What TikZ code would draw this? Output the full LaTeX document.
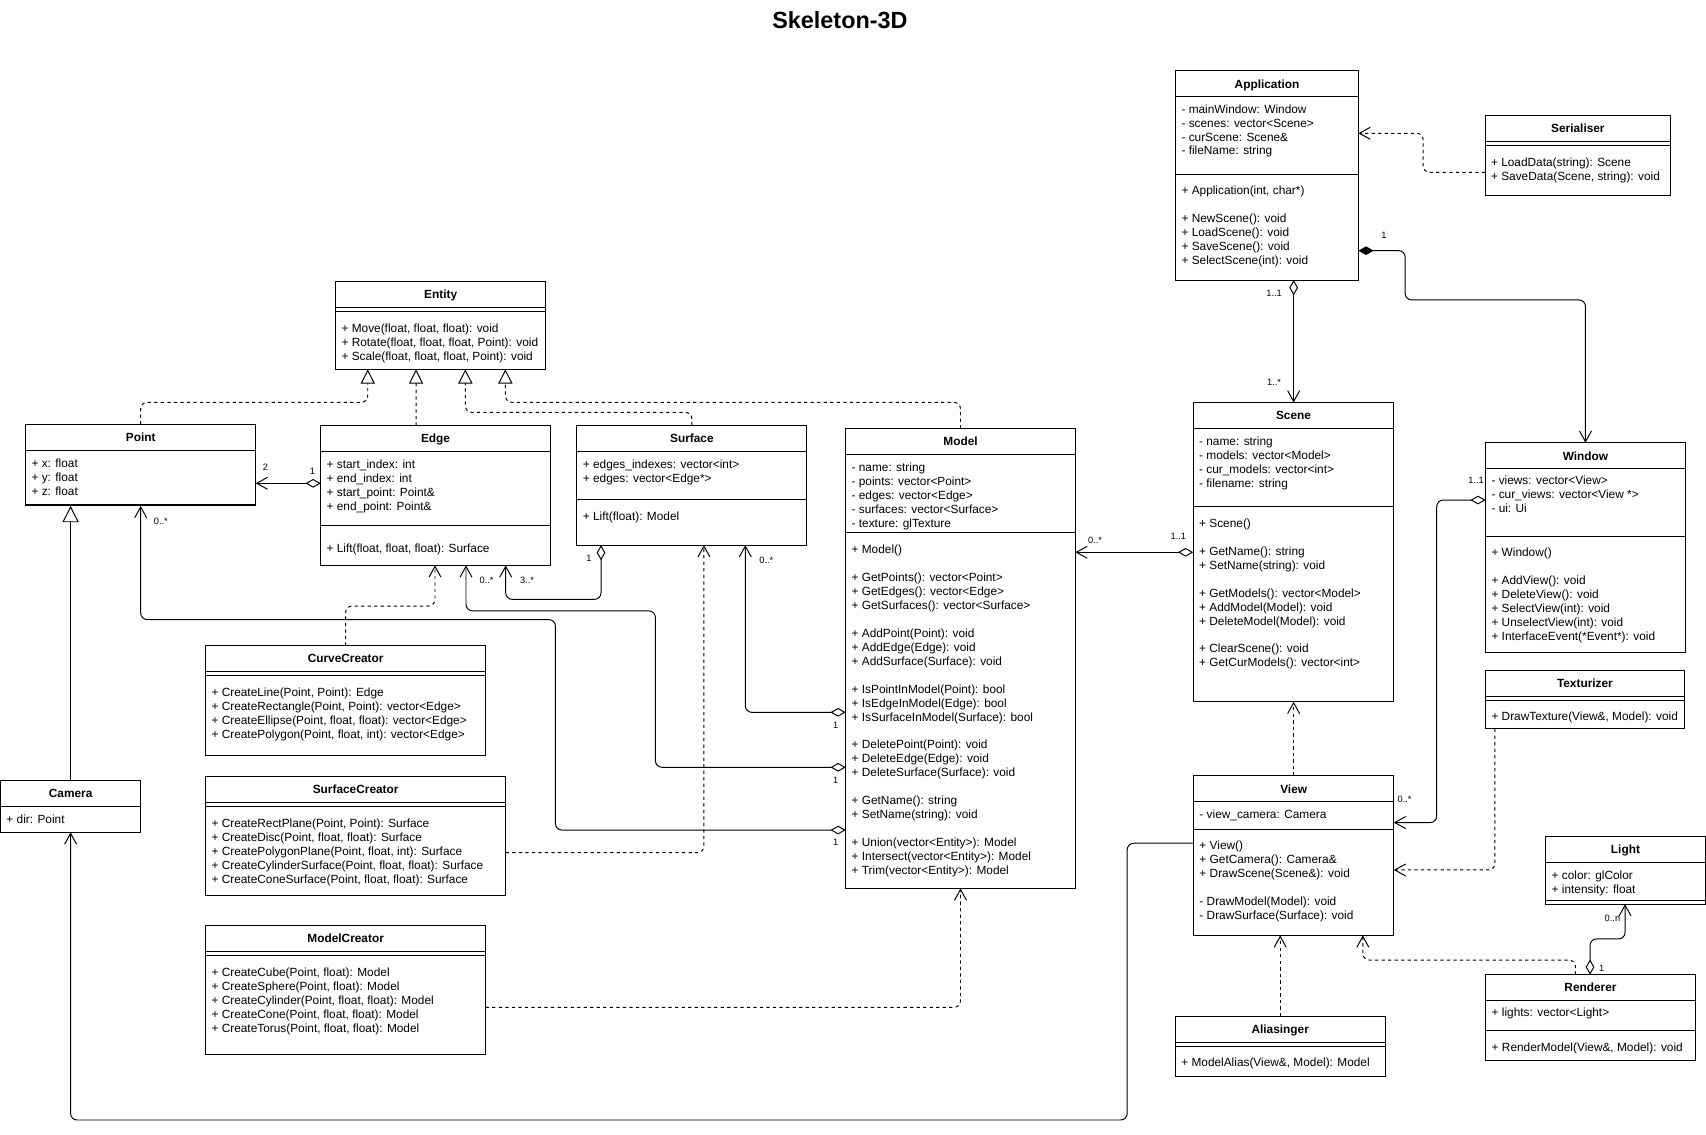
\documentclass[tikz,border=0pt]{standalone}
\usepackage{fontspec}
\setmainfont{Liberation Sans}
\usetikzlibrary{arrows.meta}
\newcommand{\hsep}[2]{\draw ([yshift=-#2pt]#1.north west) -- ([yshift=-#2pt]#1.north east);}
\newcommand{\umlbox}[6]{%
  \node[box,minimum width=#4pt,minimum height=#5pt] (#1) at (#2,#3) {};
  \node[ttl] (#1-title) at ([yshift=-12pt]#1.north) {#6};
  \hsep{#1}{24}}
\newcommand{\members}[4]{%
  \foreach \t [count=\i from 0] in {#4}{%
    \node[mem] (#1-\i) at (#2+5,#3+\i*12.85) {\t};}}
\begin{document}
\begin{tikzpicture}[x=1pt,y=-1pt,line width=0.9pt,
  box/.style={draw,inner sep=0,outer sep=0,anchor=north west},
  ttl/.style={font=\bfseries\fontsize{10.9}{13}\selectfont,inner sep=0,text height=7.8pt,text depth=0pt,anchor=center},
  mem/.style={font=\fontsize{10.9}{12.85}\selectfont,inner sep=0,text height=7pt,text depth=0pt,anchor=west},
  lbl/.style={font=\fontsize{8.5}{10}\selectfont,inner sep=0},
  dpat/.style={dash pattern=on 3pt off 3pt},
  conn/.style={rounded corners=6pt},
  oarr/.tip={Straight Barb[length=10pt,width=11pt]},
  real/.style={conn,dpat,-{Triangle[open,length=13pt,width=13pt]}},
  inh/.style={conn,-{Triangle[open,length=15pt,width=15pt]}},
  dep/.style={conn,dpat,-oarr},
  agg/.style={conn,{Diamond[open,length=14pt,width=8pt]}-oarr},
  comp/.style={conn,{Diamond[length=14pt,width=8pt]}-oarr},
  assoc/.style={conn,-oarr}]
\path[use as bounding box,fill=white] (0,0) rectangle (1568,1043);

\node[font=\bfseries\fontsize{21.5}{24}\selectfont,anchor=base] (title) at (772,26) {Skeleton-3D};

% ---------- classes ----------
\umlbox{entity}{308.5}{258.5}{193}{81}{Entity}
\hsep{entity}{27.6}
\members{ent}{308.5}{302}{{+ Move(float, float, float): void},{+ Rotate(float, float, float, Point): void},{+ Scale(float, float, float, Point): void}}

\umlbox{point}{23.6}{390}{211.4}{75}{Point}
\hsep{point}{73.5}
\members{pt}{23.6}{426}{{+ x: float},{+ y: float},{+ z: float}}

\umlbox{edge}{294.8}{391.2}{211}{128.4}{Edge}
\hsep{edge}{91.8}
\members{eda}{294.8}{426.8}{{+ start\_index: int},{+ end\_index: int},{+ start\_point: Point\&},{+ end\_point: Point\&}}
\members{edm}{294.8}{504}{{+ Lift(float, float, float): Surface}}

\umlbox{surface}{530.3}{391}{211.3}{110}{Surface}
\hsep{surface}{68}
\members{sua}{530.3}{426.8}{{+ edges\_indexes: vector<int>},{+ edges: vector<Edge*>}}
\members{sum}{530.3}{475}{{+ Lift(float): Model}}

\umlbox{model}{777.3}{393.7}{211}{422.8}{Model}
\hsep{model}{95.6}
\members{moa}{777.3}{429.8}{{- name: string},{- points: vector<Point>},{- edges: vector<Edge>},{- surfaces: vector<Surface>},{- texture: glTexture}}
\members{mob}{777.3}{505}{{+ Model()}}
\members{moc}{777.3}{530.7}{{+ GetPoints(): vector<Point>},{+ GetEdges(): vector<Edge>},{+ GetSurfaces(): vector<Surface>}}
\members{mod}{777.3}{582.1}{{+ AddPoint(Point): void},{+ AddEdge(Edge): void},{+ AddSurface(Surface): void}}
\members{moe}{777.3}{633.5}{{+ IsPointInModel(Point): bool},{+ IsEdgeInModel(Edge): bool},{+ IsSurfaceInModel(Surface): bool}}
\members{mof}{777.3}{684.9}{{+ DeletePoint(Point): void},{+ DeleteEdge(Edge): void},{+ DeleteSurface(Surface): void}}
\members{mog}{777.3}{736.3}{{+ GetName(): string},{+ SetName(string): void}}
\members{moh}{777.3}{774.85}{{+ Union(vector<Entity>): Model},{+ Intersect(vector<Entity>): Model},{+ Trim(vector<Entity>): Model}}

\umlbox{curve}{189}{593.4}{257.4}{100.8}{CurveCreator}
\hsep{curve}{27.4}
\members{cc}{189}{636.7}{{+ CreateLine(Point, Point): Edge},{+ CreateRectangle(Point, Point): vector<Edge>},{+ CreateEllipse(Point, float, float): vector<Edge>},{+ CreatePolygon(Point, float, int): vector<Edge>}}

\umlbox{surfcr}{189}{713.8}{275.8}{109.7}{SurfaceCreator}
\hsep{surfcr}{27.6}
\members{sc}{189}{756.7}{{+ CreateRectPlane(Point, Point): Surface},{+ CreateDisc(Point, float, float): Surface},{+ CreatePolygonPlane(Point, float, int): Surface},{+ CreateCylinderSurface(Point, float, float): Surface},{+ CreateConeSurface(Point, float, float): Surface}}

\umlbox{modelcr}{189}{850.8}{257.4}{118.8}{ModelCreator}
\hsep{modelcr}{27.3}
\members{mc}{189}{894}{{+ CreateCube(Point, float): Model},{+ CreateSphere(Point, float): Model},{+ CreateCylinder(Point, float, float): Model},{+ CreateCone(Point, float, float): Model},{+ CreateTorus(Point, float, float): Model}}

\umlbox{camera}{0.5}{717.2}{128.8}{47.8}{Camera}
\members{ca}{0.5}{753.4}{{+ dir: Point}}

\umlbox{app}{1080.5}{65}{168}{192.4}{Application}
\hsep{app}{95}
\members{apa}{1080.5}{100.4}{{- mainWindow: Window},{- scenes: vector<Scene>},{- curScene: Scene\&},{- fileName: string}}
\members{apb}{1080.5}{175}{{+ Application(int, char*)}}
\members{apc}{1080.5}{200.7}{{+ NewScene(): void},{+ LoadScene(): void},{+ SaveScene(): void},{+ SelectScene(int): void}}

\umlbox{ser}{1365}{106}{170.5}{73.5}{Serialiser}
\hsep{ser}{27.7}
\members{se}{1365}{149.5}{{+ LoadData(string): Scene},{+ SaveData(Scene, string): void}}

\umlbox{scene}{1096.7}{370}{184.3}{275}{Scene}
\hsep{scene}{95.7}
\members{sca}{1096.7}{406.3}{{- name: string},{- models: vector<Model>},{- cur\_models: vector<int>},{- filename: string}}
\members{scb}{1096.7}{481}{{+ Scene()}}
\members{scc}{1096.7}{506.7}{{+ GetName(): string},{+ SetName(string): void}}
\members{scd}{1096.7}{545.25}{{+ GetModels(): vector<Model>},{+ AddModel(Model): void},{+ DeleteModel(Model): void}}
\members{sce}{1096.7}{596.65}{{+ ClearScene(): void},{+ GetCurModels(): vector<int>}}

\umlbox{window}{1365.4}{407}{183.6}{192.6}{Window}
\hsep{window}{86}
\members{wia}{1365.4}{442}{{- views: vector<View>},{- cur\_views: vector<View *>},{- ui: Ui}}
\members{wib}{1365.4}{508}{{+ Window()}}
\members{wic}{1365.4}{533.7}{{+ AddView(): void},{+ DeleteView(): void},{+ SelectView(int): void},{+ UnselectView(int): void},{+ InterfaceEvent(*Event*): void}}

\umlbox{textur}{1365.4}{616.4}{182.6}{53.6}{Texturizer}
\hsep{textur}{27}
\members{tx}{1365.4}{659}{{+ DrawTexture(View\&, Model): void}}

\umlbox{view}{1097}{713}{184}{146.7}{View}
\hsep{view}{49}
\members{vwa}{1097}{748.6}{{- view\_camera: Camera}}
\members{vwb}{1097}{777.5}{{+ View()},{+ GetCamera(): Camera\&},{+ DrawScene(Scene\&): void}}
\members{vwc}{1097}{828.9}{{- DrawModel(Model): void},{- DrawSurface(Surface): void}}

\umlbox{light}{1420.7}{769}{146.5}{62}{Light}
\hsep{light}{59}
\members{li}{1420.7}{805}{{+ color: glColor},{+ intensity: float}}

\umlbox{rend}{1365.6}{895.8}{192.5}{78.5}{Renderer}
\hsep{rend}{51.5}
\members{rea}{1365.6}{931}{{+ lights: vector<Light>}}
\members{reb}{1365.6}{963}{{+ RenderModel(View\&, Model): void}}

\umlbox{alias}{1080.3}{934}{192.7}{55}{Aliasinger}
\hsep{alias}{28}
\members{al}{1080.3}{977}{{+ ModelAlias(View\&, Model): Model}}

% ---------- connectors ----------
% realizations of Entity
\draw[real] (point.north) |- (338,369.8) -- ([xshift=29.5pt]entity.south west);
\draw[real] ([xshift=87.6pt]edge.north west) -- ([xshift=73.9pt]entity.south west);
\draw[real] (surface.north) |- (427.7,379) -- ([xshift=119.2pt]entity.south west);
\draw[real] (model.north) |- (464.5,369.8) -- ([xshift=156pt]entity.south west);

% Edge -> Point
\coordinate (c5) at ([yshift=-53pt]edge.north west);
\draw[agg] (c5) -- (c5 -| point.east);
\node[lbl] (l-ep2) at (244,429.5) {2};
\node[lbl] (l-ep1) at (287.2,433.5) {1};

% Camera -> Point
\draw[inh] (camera.north) -- (camera.north |- point.south);

% Model -> Point
\coordinate (m3) at ([yshift=-369.2pt]model.north west);
\draw[agg] (m3) -| (510.5,569.5) -| (point.south);
\node[lbl] (l-pt) at (147.8,479.5) {0..*};
\node[lbl] (l-m3) at (768,774.5) {1};

% Model -> Edge
\coordinate (m2) at ([yshift=-311.5pt]model.north west);
\draw[agg] (m2) -| (602.4,561.5) -| ([xshift=133.5pt]edge.south west);
\node[lbl] (l-ed0) at (447.2,533) {0..*};
\node[lbl] (l-m2) at (768,716.9) {1};

% Model -> Surface
\coordinate (m1) at ([yshift=-261pt]model.north west);
\draw[agg] (m1) -| ([xshift=154.7pt]surface.south west);
\node[lbl] (l-su0) at (704.4,514.7) {0..*};
\node[lbl] (l-m1) at (768,666.4) {1};

% Surface -> Edge
\draw[agg] ([xshift=22.1pt]surface.south west) |- (464.8,550.9) -- ([xshift=170pt]edge.south west);
\node[lbl] (l-su1) at (541.4,513.2) {1};
\node[lbl] (l-ed3) at (484.4,533) {3..*};

% creators
\draw[dep] (curve.north) |- (399.8,557) -- ([xshift=105pt]edge.south west);
\coordinate (scr) at ([yshift=-69.9pt]surfcr.north east);
\draw[dep] (scr) -| ([xshift=116.7pt]surface.south west);
\coordinate (mcr) at ([yshift=-75pt]modelcr.north east);
\draw[dep] (mcr) -| (model.south);

% Scene -> Model
\coordinate (s1) at ([yshift=-137.6pt]scene.north west);
\draw[agg] (s1) -- (s1 -| model.east);
\node[lbl] (l-sm0) at (1006.4,496.3) {0..*};
\node[lbl] (l-sm1) at (1083,493) {1..1};

% Serialiser -> Application
\coordinate (sr) at ([yshift=-52.4pt]ser.north west);
\draw[dep] (sr) -- (1308,158.4) |- ([yshift=-57.5pt]app.north east);

% Application -> Window
\coordinate (a1) at ([yshift=-165.4pt]app.north east);
\draw[comp] (a1) -| (1291.5,275.7) -| (window.north);
\node[lbl] (l-aw) at (1272,216) {1};

% Application -> Scene
\coordinate (a2) at ([xshift=108.5pt]app.south west);
\draw[agg] (a2) -- (a2 |- scene.north);
\node[lbl] (l-as1) at (1171,269.6) {1..1};
\node[lbl] (l-as2) at (1171,351.7) {1..*};

% Window -> View
\coordinate (w1) at ([yshift=-52.6pt]window.north west);
\coordinate (v1) at ([yshift=-43pt]view.north east);
\coordinate (k18) at (1320.5,756);
\draw[agg] (w1) -| (k18) -- (v1);
\node[lbl] (l-wv1) at (1356.7,441.8) {1..1};
\node[lbl] (l-wv0) at (1291,734.6) {0..*};

% View -> Scene
\draw[dep] (view.north) -- (view.north |- scene.south);

% Texturizer -> View
\coordinate (t1) at ([xshift=8.6pt]textur.south west);
\coordinate (v2) at ([yshift=-86.6pt]view.north east);
\draw[dep] (t1) |- (v2);

% Renderer -> Light
\coordinate (r1) at ([xshift=95.8pt]rend.north west);
\coordinate (l1) at ([xshift=72.9pt]light.south west);
\draw[agg] (r1) |- (1493.6,863) -- (l1);
\node[lbl] (l-rl0) at (1482,843.7) {0..n};
\node[lbl] (l-rl1) at (1472,889.7) {1};

% Renderer -> View
\coordinate (r2) at ([xshift=82.4pt]rend.north west);
\coordinate (v3) at ([xshift=155.6pt]view.south west);
\draw[dep] (r2) -- ++(0,-13.4) -| (v3);

% Aliasinger -> View
\draw[dep] (alias.north) -- (alias.north |- view.south);

% View -> Camera
\coordinate (v4) at ([yshift=-62pt]view.north west);
\draw[assoc] (v4) -| (1036,1029.4) -| (camera.south);
\end{tikzpicture}
\end{document}
